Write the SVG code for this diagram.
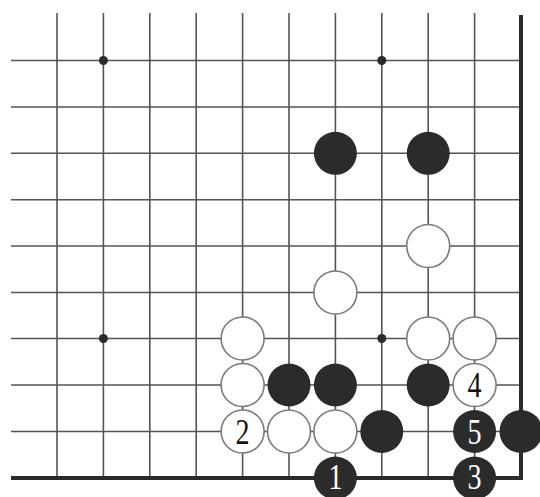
<svg xmlns="http://www.w3.org/2000/svg" width="540" height="497" viewBox="0 0 540 497">
<style>
.g{stroke:#555;stroke-width:1.6;fill:none}
.e{stroke:#2b2b2b;stroke-width:4;fill:none}
.b{fill:#2b2b2b}
.w{fill:#fff;stroke:#7a7a7a;stroke-width:1.6}
.star{fill:#2b2b2b}
.n{font-family:"Liberation Serif","DejaVu Serif",serif;font-size:36px;text-anchor:middle}
.nb{fill:#111}
.nw{fill:#fff}
</style>
<rect width="540" height="497" fill="#fff"/>
<g id="grid">
<path class="g" d="M57 13V478M103.4 13V478M149.8 13V478M196.2 13V478M242.6 13V478M289 13V478M335.4 13V478M381.8 13V478M428.2 13V478M474.6 13V478"/>
<path class="g" d="M11 60.5H521M11 107H521M11 153.3H521M11 199.7H521M11 246H521M11 292.5H521M11 338.5H521M11 385H521M11 431.5H521"/>
<path class="e" d="M11 478H523M521 15V480"/>
<circle class="star" cx="103.4" cy="60.5" r="4.5"/>
<circle class="star" cx="381.8" cy="60.5" r="4.5"/>
<circle class="star" cx="103.4" cy="338.5" r="4.5"/>
<circle class="star" cx="381.8" cy="338.5" r="4.5"/>
</g>
<g id="stones">
<g id="b1"><circle class="b" cx="335.4" cy="153.3" r="21.5"/></g>
<g id="b2"><circle class="b" cx="428.2" cy="153.3" r="21.5"/></g>
<g id="w1"><circle class="w" cx="428.2" cy="246" r="21.5"/></g>
<g id="w2"><circle class="w" cx="335.4" cy="292.5" r="21.5"/></g>
<g id="w3"><circle class="w" cx="242.6" cy="338.5" r="21.5"/></g>
<g id="w4"><circle class="w" cx="428.2" cy="338.5" r="21.5"/></g>
<g id="w5"><circle class="w" cx="474.6" cy="338.5" r="21.5"/></g>
<g id="w6"><circle class="w" cx="242.6" cy="385" r="21.5"/></g>
<g id="b3"><circle class="b" cx="289" cy="385" r="21.5"/></g>
<g id="b4"><circle class="b" cx="335.4" cy="385" r="21.5"/></g>
<g id="b5"><circle class="b" cx="428.2" cy="385" r="21.5"/></g>
<g id="w7"><circle class="w" cx="474.6" cy="385" r="21.5"/><text class="n nb" transform="translate(474.6 397) scale(0.78 1)">4</text></g>
<g id="w8"><circle class="w" cx="242.6" cy="431.5" r="21.5"/><text class="n nb" transform="translate(242.6 443.5) scale(0.78 1)">2</text></g>
<g id="w9"><circle class="w" cx="289" cy="431.5" r="21.5"/></g>
<g id="w10"><circle class="w" cx="335.4" cy="431.5" r="21.5"/></g>
<g id="b6"><circle class="b" cx="381.8" cy="431.5" r="21.5"/></g>
<g id="b7"><circle class="b" cx="474.6" cy="431.5" r="21.5"/><text class="n nw" transform="translate(474.6 443.5) scale(0.78 1)">5</text></g>
<g id="b8"><circle class="b" cx="521" cy="431.5" r="21.5"/></g>
<g id="b9"><circle class="b" cx="335.4" cy="478" r="21.5"/><text class="n nw" transform="translate(335.4 489) scale(0.78 1)">1</text></g>
<g id="b10"><circle class="b" cx="474.6" cy="478" r="21.5"/><text class="n nw" transform="translate(474.6 489) scale(0.78 1)">3</text></g>
</g>
</svg>
